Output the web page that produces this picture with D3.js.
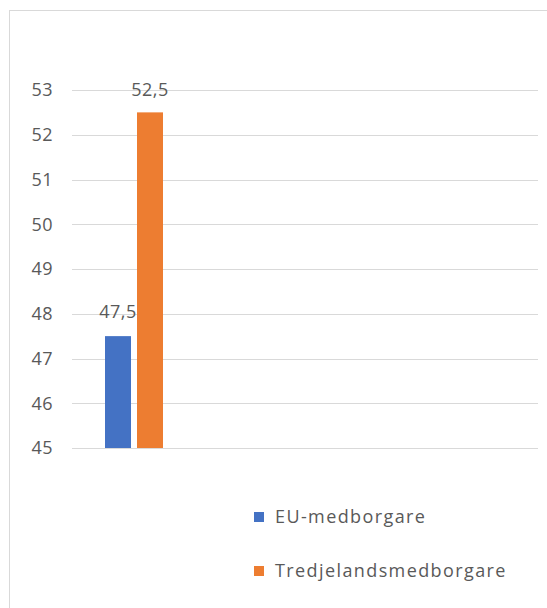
<!DOCTYPE html>
<html>
<head>
<meta charset="utf-8">
<script src="https://cdn.jsdelivr.net/npm/d3@7"></script>
<style>
  body { margin: 0; background: #fff; }
  text { font-family: "Open Sans", "Noto Sans", sans-serif; fill: #595959; }
</style>
</head>
<body>
<svg width="547" height="608"></svg>
<script>
// data
var categories = ["Medborgare"];
var series = ["EU-medborgare", "Tredjelandsmedborgare"];
var values = [47.5, 52.5];
var colors = ["#4472C4", "#ED7D31"];
var yTicks = [45, 46, 47, 48, 49, 50, 51, 52, 53];

var svg = d3.select("svg"),
    width = +svg.attr("width"),
    height = +svg.attr("height");

// chart frame
svg.append("rect")
    .attr("x", 9.5).attr("y", 10.5)
    .attr("width", 546).attr("height", 620)
    .attr("fill", "none")
    .attr("stroke", "#d9d9d9");

var y = d3.scaleLinear().domain([45, 53]).range([448, 90]);

var x0 = d3.scaleBand().domain(categories).range([105, 163]);
var x1 = d3.scaleBand().domain(series)
    .range([0, x0.bandwidth()])
    .paddingInner(0.1875);

// gridlines
svg.append("g").selectAll("line")
    .data(yTicks)
    .enter().append("line")
    .attr("x1", 72).attr("x2", 538)
    .attr("y1", function(d) { return Math.round(y(d)) + 0.5; })
    .attr("y2", function(d) { return Math.round(y(d)) + 0.5; })
    .attr("stroke", "#d9d9d9")
    .attr("stroke-width", 1);

// y axis labels
svg.append("g").selectAll("text")
    .data(yTicks)
    .enter().append("text")
    .attr("x", 53)
    .attr("y", function(d) { return y(d); })
    .attr("dy", "0.35em")
    .attr("text-anchor", "end")
    .style("font-size", "18px")
    .style("letter-spacing", "0.5px")
    .text(function(d) { return d; });

// bars
var group = svg.append("g")
    .attr("transform", "translate(" + x0(categories[0]) + ",0)");

group.selectAll("rect")
    .data(values)
    .enter().append("rect")
    .attr("x", function(d, i) { return x1(series[i]); })
    .attr("y", function(d) { return y(d); })
    .attr("width", x1.bandwidth())
    .attr("height", function(d) { return y(45) - y(d); })
    .attr("fill", function(d, i) { return colors[i]; });

group.selectAll("text")
    .data(values)
    .enter().append("text")
    .attr("x", function(d, i) { return x1(series[i]) + x1.bandwidth() / 2; })
    .attr("y", function(d) { return Math.max(y(d) - 18, y(53) + 6); })
    .attr("text-anchor", "middle")
    .style("font-size", "18px")
    .style("letter-spacing", "0.5px")
    .text(function(d) { return String(d).replace(".", ","); });

// legend
var legend = svg.append("g").selectAll("g")
    .data(series)
    .enter().append("g")
    .attr("transform", function(d, i) { return "translate(254," + (517 + i * 54) + ")"; });

legend.append("rect")
    .attr("x", 0).attr("y", -5)
    .attr("width", 10).attr("height", 10)
    .attr("fill", function(d, i) { return colors[i]; });

legend.append("text")
    .attr("x", 21)
    .attr("dy", "0.35em")
    .style("font-size", "18px")
    .style("letter-spacing", "1.4px")
    .text(function(d) { return d; });
</script>
</body>
</html>
